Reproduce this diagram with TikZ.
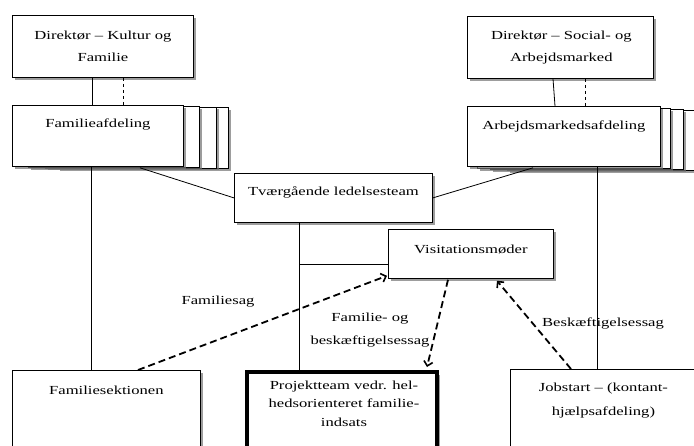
\documentclass[tikz,border=0pt]{standalone}
\usepackage{fontspec}
\setmainfont{Liberation Serif}[FakeStretch=1.35]
\usetikzlibrary{arrows.meta,shadows}

\begin{document}
\begin{tikzpicture}[x=1pt,y=-1pt,font=\fontsize{12.3}{22}\selectfont,line cap=butt,
  orgbox/.style={draw,fill=white,line width=0.8pt,inner sep=0pt,anchor=north west,
    drop shadow={shadow xshift=2.5pt,shadow yshift=-2.5pt,fill=black!55,opacity=0.7}},
  boxtxt/.style={align=center,inner sep=0pt},
  link/.style={line width=0.8pt},
  flow/.style={-{Straight Barb[length=4.5pt,width=9pt,line width=1.6pt]},line width=1.8pt,dash pattern=on 7pt off 4pt},
  lbl/.style={inner sep=0pt}]
\useasboundingbox (0,0) rectangle (694,445);
\begin{scope}
\clip (0,0) rectangle (694,445);
% stacked departments behind
\foreach \dx/\dy [count=\i] in {45/2,33/1.5,16/1}
  \node[orgbox,minimum width=171pt,minimum height=61pt] (fa-back\i) at (12+\dx,105+\dy) {};
\foreach \dx/\dy [count=\i] in {40/4,23/3,10/2}
  \node[orgbox,minimum width=193pt,minimum height=60pt] (am-back\i) at (467+\dx,106+\dy) {};
% boxes
\node[orgbox,minimum width=181pt,minimum height=62pt] (dkf) at (12,15) {};
\node[orgbox,minimum width=186pt,minimum height=62pt] (dsa) at (467,16) {};
\node[orgbox,minimum width=171pt,minimum height=61pt] (fa) at (12,105) {};
\node[orgbox,minimum width=193pt,minimum height=60pt] (am) at (467,106) {};
\node[orgbox,minimum width=198pt,minimum height=49pt] (tl) at (234,173) {};
\node[orgbox,minimum width=165pt,minimum height=49pt] (vm) at (388,229) {};
\node[orgbox,minimum width=188pt,minimum height=80pt] (fs) at (12,370) {};
\node[orgbox,line width=4pt,minimum width=190pt,minimum height=80pt] (pt) at (245,370) {};
\node[orgbox,minimum width=184pt,minimum height=80pt] (js) at (510,369) {};
\end{scope}
% texts
\node[boxtxt] (dkf-t) at (dkf.center) {Direktør – Kultur og\\Familie};
\node[boxtxt] (dsa-t) at ([xshift=1pt]dsa.center) {Direktør – Social- og\\Arbejdsmarked};
\node[boxtxt] (fa-t) at ([yshift=-19pt]fa.north) {Familieafdeling};
\node[boxtxt] (am-t) at ([yshift=-20pt]am.north) {Arbejdsmarkedsafdeling};
\node[boxtxt] (tl-t) at ([yshift=-19pt]tl.north) {Tværgående ledelsesteam};
\node[boxtxt] (vm-t) at ([yshift=-20pt]vm.north) {Visitationsmøder};
\node[boxtxt] (fs-t) at ([yshift=-20pt]fs.north) {Familiesektionen};
\node[boxtxt,font=\fontsize{12.3}{18.5}\selectfont] (pt-t) at ([xshift=2pt,yshift=-33.5pt]pt.north) {Projektteam vedr. hel-\\hedsorienteret familie-\\indsats};
\node[boxtxt,font=\fontsize{12.3}{24}\selectfont] (js-t) at ([xshift=1pt,yshift=-32pt]js.north) {Jobstart – (kontant-\\hjælpsafdeling)};
% lines
\draw[link] ([xshift=80pt]dkf.south west) -- ([xshift=80pt]fa.north west);
\draw[link,dashed] ([xshift=111pt]dkf.south west) -- ([xshift=111pt]fa.north west);
\draw[link] ([xshift=86pt]dsa.south west) -- ([xshift=88pt]am.north west);
\draw[link,dashed] ([xshift=118pt]dsa.south west) -- ([xshift=118pt]am.north west);
\draw[link] ([xshift=79pt]fa.south west) -- ([xshift=79pt]fs.north west);
\draw[link] ([xshift=128pt,yshift=-1pt]fa.south west) -- (tl.west);
\draw[link] (tl.east) -- ([xshift=66pt,yshift=-1pt]am.south west);
\draw[link] ([xshift=130pt]am.south west) -- ([xshift=87pt]js.north west);
\coordinate (tl-foot) at ([xshift=65pt]tl.south west);
\coordinate (vm-in) at ([yshift=-10.5pt]vm.west);
\draw[link] (tl-foot) -- (tl-foot |- pt.north);
\draw[link] (vm-in) -- (vm-in -| tl-foot);
% flows
\draw[flow] ([xshift=126pt]fs.north west) -- ([xshift=-1pt,yshift=3pt]vm.south west);
\draw[flow] ([xshift=60pt,yshift=-1pt]vm.south west) -- ([xshift=-12pt,yshift=3pt]pt.north east);
\draw[flow] ([xshift=61pt]js.north west) -- ([xshift=109pt,yshift=-2pt]vm.south west);
% flow labels
\node[lbl] (l-fam) at (218,302) {Familiesag};
\node[lbl,align=center,font=\fontsize{12.3}{23}\selectfont] (l-famb) at (370,330) {Familie- og\\beskæftigelsessag};
\node[lbl] (l-besk) at (603,323) {Beskæftigelsessag};
\end{tikzpicture}
\end{document}
